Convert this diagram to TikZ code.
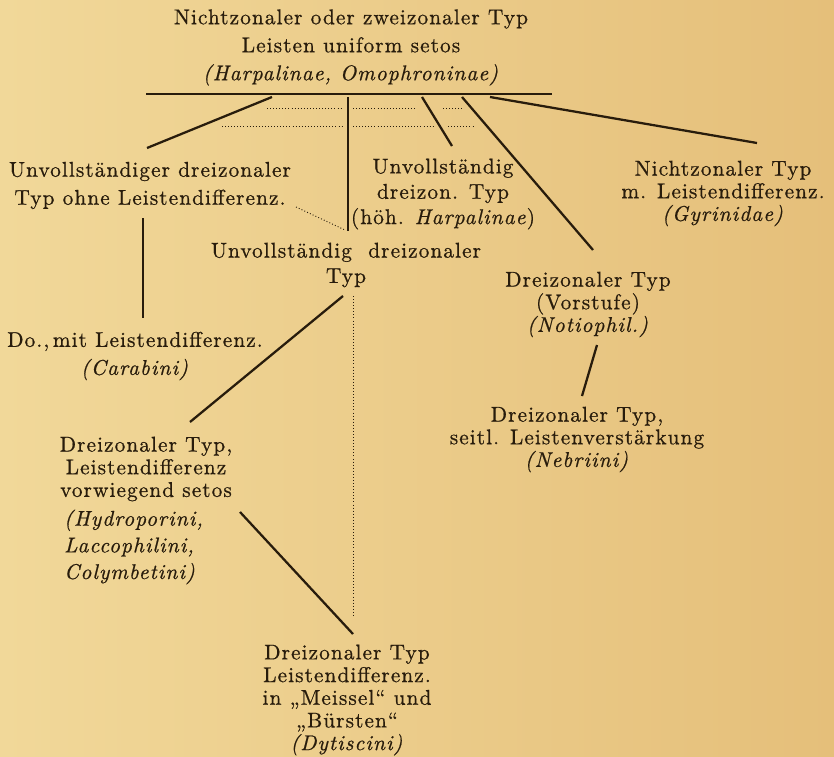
\documentclass[tikz,border=0pt]{standalone}
\usepackage{fontspec}
\setmainfont{lmroman10-regular.otf}[
    ItalicFont = lmroman10-italic.otf,
    BoldFont = lmroman10-bold.otf,
]
\usetikzlibrary{positioning}

\definecolor{paper}{RGB}{241,216,153}
\definecolor{paperdark}{RGB}{229,191,122}
\definecolor{ink}{RGB}{40,28,12}

\newcommand{\typfont}[1]{\fontsize{16}{#1}\selectfont\addfontfeatures{LetterSpace=5, FakeBold=0.7}}

\begin{document}
\begin{tikzpicture}[%
        x = 0.75pt,
        y = -0.75pt,
        line width = 1.7pt,
        draw = ink,
        every node/.style = {inner sep = 0pt, align = center, text = ink, font = \typfont{17}},
        dots/.style = {line width = 0.7pt, dash pattern = on 0.7pt off 1.6pt},
    ]

        % Paper and size of the picture.
        \shade[left color = paper, right color = paperdark] (0, 0) rectangle (834, 756);
        \useasboundingbox (0, 0) rectangle (834, 756);

        % Types, from top to bottom.
        \node (stem) at (351, 47.5) [font = \typfont{21}]
            {Nichtzonaler oder zweizonaler Typ\\ Leisten uniform setos\\ \textit{(Harpalinae, Omophroninae)}};
        \node (ohne) at (150, 185.5) [font = \typfont{21}]
            {Unvollständiger dreizonaler\\ Typ ohne Leistendifferenz.};
        \node (hoeh) at (443, 194) [font = \typfont{19}]
            {Unvollständig\\ dreizon. Typ\\ (höh. \textit{Harpalinae})};
        \node (gyri) at (723, 193.5)
            {Nichtzonaler Typ\\ m. Leistendifferenz.\\ \textit{(Gyrinidae)}};
        \node (unvo) at (346, 265) [font = \typfont{19}]
            {Unvollständig\ \ dreizonaler\\ Typ};
        \node (noti) at (588, 304.5)
            {Dreizonaler Typ\\ (Vorstufe)\\ \textit{(Notiophil.)}};
        \node (cara) at (135, 356) [font = \typfont{21}]
            {Do.,\,mit Leistendifferenz.\\ \textit{(Carabini)}};
        \node (nebr) at (577, 439.5)
            {Dreizonaler Typ,\\ seitl. Leistenverstärkung\\ \textit{(Nebriini)}};
        \node (hydr) at (146, 469)
            {Dreizonaler Typ,\\ Leistendifferenz\\ vorwiegend setos};
        \node (hydr-taxa) at (63, 547) [anchor = west, align = left, font = \typfont{20}]
            {\textit{(Hydroporini,}\\ \textit{Laccophilini,}\\ \textit{Colymbetini)}};
        \node (dyti) at (347, 700)
            {Dreizonaler Typ\\ Leistendifferenz.\\ in „Meissel“ und\\ „Bürsten“\\ \textit{(Dytiscini)}};

        % Ends of the branches.
        \coordinate (bar-w) at (146, 94);
        \coordinate (bar-e) at (552, 94);
        \coordinate (stem-1) at (272, 97);
        \coordinate (stem-2) at (348, 97);
        \coordinate (stem-3) at (422, 97);
        \coordinate (stem-4) at (462, 97);
        \coordinate (stem-5) at (490, 97);
        \coordinate (ohne-top) at (147, 148);
        \coordinate (ohne-foot) at (143, 218);
        \coordinate (ohne-dot) at (296, 207);
        \coordinate (hoeh-top) at (452, 146);
        \coordinate (gyri-top) at (757, 143);
        \coordinate (unvo-top) at (348, 231);
        \coordinate (unvo-dot) at (345, 230);
        \coordinate (unvo-foot) at (343, 296);
        \coordinate (unvo-line) at (353, 296);
        \coordinate (noti-top) at (593, 250);
        \coordinate (noti-foot) at (597, 345);
        \coordinate (nebr-top) at (582, 396);
        \coordinate (cara-top) at (143, 318);
        \coordinate (hydr-top) at (190, 422);
        \coordinate (hydr-foot) at (240, 512);
        \coordinate (dyti-top) at (353, 634);
        \coordinate (dyti-line) at (353, 617);

        % The bar below the common type.
        \draw[line width = 2pt] (bar-w) to (bar-e);

        % Solid branches.
        \draw (stem-1) to (ohne-top);
        \draw (stem-2) to (unvo-top);
        \draw (stem-3) to (hoeh-top);
        \draw (stem-4) to (noti-top);
        \draw (stem-5) to (gyri-top);
        \draw (ohne-foot) to (cara-top);
        \draw (unvo-foot) to (hydr-top);
        \draw (noti-foot) to (nebr-top);
        \draw (hydr-foot) to (dyti-top);

        % Dotted branches.
        \begin{scope}[dots]
            \draw (ohne-dot) to (unvo-dot);
            \draw (unvo-line) to (dyti-line);
            \foreach \xa/\xb/\yy in {267/343/108, 353/417/108, 443/462/108,
                                      222/343/126, 353/433/126, 448/473/126}
                \draw (\xa, \yy) to (\xb, \yy);
        \end{scope}
    \end{tikzpicture}
\end{document}
